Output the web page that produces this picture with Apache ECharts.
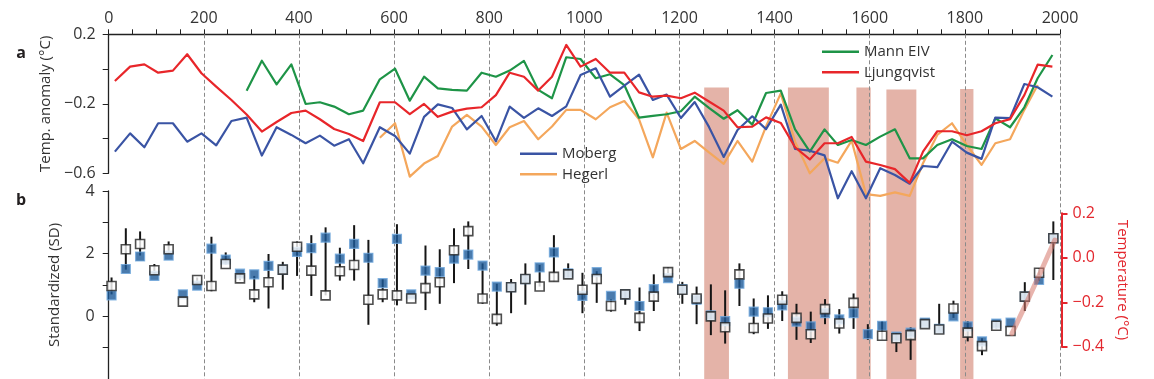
<!DOCTYPE html>
<html><head><meta charset="utf-8">
<script src="https://cdn.jsdelivr.net/npm/echarts@6.0.0/dist/echarts.min.js"></script>
<style>html,body{margin:0;padding:0;background:#fff}#c{width:1154px;height:379px}</style>
</head><body><div id="c"></div>
<script>
// ---- Panel a: reconstructions (temperature anomaly, °C) ----
const yearsA = [13, 45, 75, 104, 135, 165, 195, 226, 258, 290, 322, 353, 384, 414, 444, 474, 505, 535, 570, 602, 633, 663, 692, 722, 753, 784, 814, 843, 873, 903, 932, 962, 992, 1024, 1054, 1084, 1115, 1144, 1173, 1203, 1232, 1262, 1293, 1322, 1353, 1382, 1413, 1443, 1474, 1505, 1533, 1562, 1592, 1622, 1653, 1684, 1712, 1742, 1773, 1804, 1835, 1864, 1895, 1925, 1953, 1984];
const moberg = [-0.475, -0.370, -0.450, -0.312, -0.312, -0.418, -0.370, -0.439, -0.299, -0.280,
  -0.498, -0.335, -0.379, -0.427, -0.383, -0.441, -0.404, -0.542, -0.335, -0.385,
  -0.487, -0.275, -0.203, -0.224, -0.347, -0.270, -0.416, -0.216, -0.281, -0.226,
  -0.270, -0.215, -0.034, 0.004, -0.159, -0.095, -0.032, -0.178, -0.147, -0.282,
  -0.190, -0.333, -0.506, -0.351, -0.272, -0.346, -0.205, -0.460, -0.470, -0.497,
  -0.744, -0.588, -0.744, -0.571, -0.610, -0.660, -0.558, -0.565, -0.418, -0.481,
  -0.517, -0.280, -0.283, -0.086, -0.105, -0.159];
const ljungqvist = [-0.069, 0.014, 0.027, -0.021, -0.009, 0.085, -0.024, -0.101, -0.178, -0.262,
  -0.360, -0.305, -0.253, -0.239, -0.289, -0.345, -0.374, -0.414, -0.191, -0.191,
  -0.260, -0.201, -0.275, -0.245, -0.228, -0.220, -0.150, -0.021, -0.044, -0.124,
  -0.044, 0.139, 0.014, 0.058, -0.021, -0.021, -0.134, -0.159, -0.153, -0.168,
  -0.136, -0.187, -0.239, -0.335, -0.331, -0.278, -0.310, -0.450, -0.520, -0.427,
  -0.427, -0.391, -0.533, -0.552, -0.576, -0.655, -0.475, -0.358, -0.358, -0.381,
  -0.358, -0.312, -0.288, -0.150, 0.025, 0.014];
const mannEIV = [null, null, null, null, null, null, null, null, null, -0.125,
  0.048, -0.088, 0.027, -0.201, -0.191, -0.216, -0.260, -0.239, -0.059, 0.002,
  -0.182, -0.044, -0.111, -0.120, -0.124, -0.021, -0.044, -0.009, 0.047, -0.120,
  -0.168, 0.068, 0.058, -0.053, -0.030, -0.092, -0.280, -0.270, -0.260, -0.243,
  -0.159, -0.223, -0.286, -0.237, -0.320, -0.138, -0.124, -0.347, -0.475, -0.347,
  -0.437, -0.408, -0.437, -0.389, -0.347, -0.514, -0.514, -0.437, -0.404, -0.443,
  -0.460, -0.284, -0.335, -0.220, -0.053, 0.081];
const hegerl = [null, null, null, null, null, null, null, null, null, null,
  null, null, null, null, null, null, null, null, -0.395, -0.312,
  -0.619, -0.544, -0.500, -0.331, -0.264, -0.331, -0.437, -0.335, -0.299, -0.404,
  -0.331, -0.235, -0.235, -0.289, -0.220, -0.184, -0.289, -0.508, -0.251, -0.460,
  -0.414, -0.479, -0.546, -0.414, -0.533, -0.330, -0.140, -0.418, -0.600, -0.514,
  -0.539, -0.412, -0.720, -0.730, -0.710, -0.730, -0.542, -0.379, -0.312, -0.437,
  -0.552, -0.427, -0.404, -0.235, -0.092, null];

// ---- Panel b: standardized values (SD) ----
const yearsB = [6, 36, 66, 96, 126, 156, 186, 216, 246, 276, 306, 336, 366, 396, 426, 456, 486, 516, 546, 576, 606, 636, 666, 696, 726, 756, 786, 816, 846, 876, 906, 936, 966, 996, 1026, 1056, 1086, 1116, 1146, 1176, 1206, 1236, 1266, 1296, 1326, 1356, 1386, 1416, 1446, 1476, 1506, 1536, 1566, 1596, 1626, 1656, 1686, 1716, 1746, 1776, 1806, 1836, 1866, 1896, 1926, 1956, 1986];
const blueSD = [0.67, 1.51, 1.91, 1.29, 1.94, 0.70, 0.98, 2.16, 1.81, 1.36,
  1.34, 1.61, 1.49, 2.06, 2.18, 2.51, 1.84, 2.31, 1.87, 1.06,
  2.47, 0.70, 1.46, 1.41, 1.84, 1.97, 1.62, 0.95, 0.93, 1.19,
  1.56, 2.04, 1.37, 0.65, 1.41, 0.65, 0.70, 0.33, 0.87, 1.22,
  0.87, 0.53, 0.03, -0.15, 1.04, 0.15, 0.13, 0.35, -0.17, -0.32,
  0.10, -0.10, 0.10, -0.57, -0.30, -0.65, -0.52, -0.20, -0.40, 0.00,
  -0.32, -0.80, -0.23, -0.20, 0.63, 1.16, 2.49];
const blackSD = [0.97, 2.14, 2.31, 1.47, 2.14, 0.47, 1.16, 0.97, 1.67, 1.21,
  0.70, 1.09, 1.49, 2.22, 1.46, 0.67, 1.44, 1.64, 0.53, 0.70,
  0.67, 0.57, 0.90, 1.09, 2.11, 2.72, 0.57, -0.08, 0.93, 1.19,
  0.95, 1.26, 1.34, 0.85, 1.19, 0.33, 0.70, -0.05, 0.63, 1.41,
  0.85, 0.57, 0.00, -0.35, 1.34, -0.37, -0.07, 0.53, -0.05, -0.57,
  0.23, -0.23, 0.43, null, -0.62, -0.70, -0.60, -0.25, -0.42, 0.25,
  -0.52, -0.95, -0.30, -0.47, 0.63, 1.39, 2.49];
const barLow = [0.70, 1.49, 1.94, 1.35, 2.00, null, 1.05, 0.80, 1.65, 1.15,
  0.45, 0.25, 0.85, 1.29, 0.65, 0.67, 1.14, 1.14, -0.27, 0.45,
  0.35, null, 0.20, 0.40, 1.06, 1.51, 0.40, -0.30, 0.10, 0.37,
  0.95, 1.12, 1.22, 0.10, 0.43, 0.15, 0.37, -0.47, 0.17, 1.34,
  0.40, -0.25, -0.60, -0.87, 0.33, -0.57, -0.40, -0.15, -0.75, -0.85,
  -0.25, -0.55, -0.40, -0.75, -0.75, -1.14, -1.39, null, -0.45, -0.05,
  -0.80, -1.24, -0.40, null, 0.17, 1.14, 1.16];
const barHigh = [1.24, 2.81, 2.71, 1.67, 2.39, null, 1.24, 2.54, 2.04, 1.35,
  1.29, 1.99, 1.74, 2.39, 2.59, 2.84, 2.19, 2.91, 2.44, 1.19,
  2.94, null, 2.26, 2.14, 2.81, 3.03, 1.69, 1.04, 1.19, 1.69,
  1.64, 2.59, 1.69, 1.39, 1.44, 0.55, 0.79, 0.92, 1.34, 1.56,
  1.10, 0.95, 1.02, 0.83, 1.69, 0.57, 0.67, 0.80, 0.40, 0.15,
  0.55, 0.23, 0.73, -0.25, -0.15, -0.53, -0.35, null, 0.40, 0.50,
  -0.15, -0.70, -0.15, null, 1.09, 1.54, 3.03];

// ---- Instrumental temperature (right axis, °C) ----
const tempYears = [1896, 1926, 1956, 1986];
const tempValues = [-0.34, -0.205, -0.065, 0.08];

// ---- Shaded periods (years) and their top (panel-a units) ----
const bandStart = [1252, 1428, 1572, 1635, 1790];
const bandEnd = [1304, 1514, 1602, 1698, 1818];
const bandTop = [-0.108, -0.108, -0.108, -0.12, -0.118];

// ---- Tick labels ----
const panelATickLabels = ['0.2', '\u22120.2', '\u22120.6'];

const FONT = "'Open Sans', 'Noto Sans', sans-serif";
const TXT = '#333';
const AX = '#222';
const RED = '#e3262d';
const fmt1 = v => (v < -1e-9 ? '\u2212' : '') + Math.abs(v).toFixed(1);

function pairs(xs, ys) {
  const out = [];
  xs.forEach((x, i) => { if (ys[i] !== null && ys[i] !== undefined) out.push([x, ys[i]]); });
  return out;
}
function lineSeries(name, ys, color) {
  return {
    name, type: 'line', xAxisIndex: 0, yAxisIndex: 0, data: pairs(yearsA, ys),
    symbol: 'none', clip: false, z: 5,
    itemStyle: { color }, lineStyle: { color, width: 2.2, join: 'round' }
  };
}

const chart = echarts.init(document.getElementById('c'), null, { renderer: 'canvas' });
const option = {
  animation: false,
  textStyle: { fontFamily: FONT },
  grid: [
    { left: 108.7, right: 94, top: 34.3, height: 139 },
    { left: 108.7, right: 94, top: 191, height: 201 },
    { left: 108.7, right: 92.5, top: 213.3, height: 133.5 },
    { left: 108.7, right: 94, top: 34.3, height: 347.5 }
  ],
  xAxis: [
    { gridIndex: 0, type: 'value', position: 'top', min: 0, max: 2000, interval: 200,
      axisLine: { onZero: false, lineStyle: { color: AX, width: 1.3 } },
      axisTick: { length: 5, lineStyle: { color: AX } },
      minorTick: { show: true, splitNumber: 4, length: 5, lineStyle: { color: AX } },
      axisLabel: { fontSize: 16, color: TXT, margin: 8, fontFamily: FONT, formatter: v => String(v) },
      splitLine: { show: false } },
    { gridIndex: 1, type: 'value', min: 0, max: 2000, show: false, axisLine: { onZero: false } },
    { gridIndex: 2, type: 'value', min: 0, max: 2000, show: false, axisLine: { onZero: false } },
    { gridIndex: 3, type: 'value', min: 0, max: 2000, interval: 200, z: 1,
      axisLine: { show: false, onZero: false }, axisTick: { show: false }, axisLabel: { show: false },
      splitLine: { show: true, showMinLine: false, showMaxLine: true,
        lineStyle: { type: [4, 2.5], color: '#8a8a8a', width: 1 } } }
  ],
  yAxis: [
    { gridIndex: 0, type: 'value', min: -0.6, max: 0.2, interval: 0.2,
      name: 'Temp. anomaly (°C)', nameLocation: 'middle', nameGap: 46,
      nameTextStyle: { fontSize: 15, color: TXT, fontFamily: FONT },
      axisLine: { show: true, onZero: false, lineStyle: { color: AX, width: 1.3 } },
      axisTick: { show: true, length: 6, lineStyle: { color: AX } },
      axisLabel: { fontSize: 16, color: TXT, margin: 13, fontFamily: FONT,
        formatter: v => { const s = fmt1(v); return panelATickLabels.indexOf(s) >= 0 ? s : ''; } },
      splitLine: { show: false } },
    { gridIndex: 1, type: 'value', min: -2, max: 4, interval: 1,
      name: 'Standardized (SD)', nameLocation: 'middle', nameGap: 46,
      nameTextStyle: { fontSize: 15, color: TXT, fontFamily: FONT },
      axisLine: { show: true, onZero: false, lineStyle: { color: AX, width: 1.3 } },
      axisTick: { show: true, length: 6, lineStyle: { color: AX } },
      axisLabel: { fontSize: 16, color: TXT, margin: 14, fontFamily: FONT,
        formatter: v => (Math.round(v) % 2 === 0 && v >= 0) ? String(Math.round(v)) : '' },
      splitLine: { show: false } },
    { gridIndex: 2, type: 'value', position: 'right', min: -0.4, max: 0.2, interval: 0.2,
      name: 'Temperature (°C)', nameLocation: 'middle', nameRotate: -90, nameGap: 50,
      nameTextStyle: { fontSize: 15, color: RED, fontFamily: FONT },
      axisLine: { show: true, onZero: false, lineStyle: { color: RED, width: 2 } },
      axisTick: { show: true, length: 6, lineStyle: { color: RED, width: 2 } },
      axisLabel: { fontSize: 16, color: RED, margin: 11, fontFamily: FONT, formatter: fmt1 },
      splitLine: { show: false } },
    { gridIndex: 3, type: 'value', min: -1.8, max: 0.2, show: false, axisLine: { onZero: false } }
  ],
  legend: [
    { data: ['Mann EIV', 'Ljungqvist'], orient: 'vertical', left: 822, top: 41.7, padding: 0,
      itemWidth: 37, itemHeight: 2.5, itemGap: 0.6, icon: 'rect',
      textStyle: { fontSize: 15, color: TXT, lineHeight: 20, fontFamily: FONT } },
    { data: ['Moberg', 'Hegerl'], orient: 'vertical', left: 520, top: 143.7, padding: 0,
      itemWidth: 37, itemHeight: 2.5, itemGap: 0.6, icon: 'rect',
      textStyle: { fontSize: 15, color: TXT, lineHeight: 20, fontFamily: FONT } }
  ],
  graphic: [
    { type: 'text', x: 21, y: 53, style: { text: 'a', align: 'center', verticalAlign: 'middle',
      font: "bold 16px 'Open Sans', sans-serif", fill: '#231f20' } },
    { type: 'text', x: 21, y: 200, style: { text: 'b', align: 'center', verticalAlign: 'middle',
      font: "bold 16px 'Open Sans', sans-serif", fill: '#231f20' } }
  ],
  series: [
    { type: 'custom', name: 'bands', xAxisIndex: 3, yAxisIndex: 3, z: 0, silent: true,
      data: bandStart.map((s, i) => [s, bandEnd[i], bandTop[i]]),
      renderItem: (params, api) => {
        const p1 = api.coord([api.value(0), api.value(2)]);
        const p2 = api.coord([api.value(1), -1.8]);
        return { type: 'rect', shape: { x: p1[0], y: p1[1], width: p2[0] - p1[0], height: p2[1] - p1[1] },
          style: { fill: '#e4b3a8' } };
      } },
    lineSeries('Hegerl', hegerl, '#f4a75c'),
    lineSeries('Mann EIV', mannEIV, '#1e9447'),
    lineSeries('Moberg', moberg, '#3a54a4'),
    lineSeries('Ljungqvist', ljungqvist, '#e8262a'),
    { type: 'custom', name: 'errorbars', xAxisIndex: 1, yAxisIndex: 1, z: 5,
      data: yearsB.map((y, i) => [y, barLow[i], barHigh[i]]).filter(d => d[1] !== null),
      renderItem: (params, api) => {
        const a = api.coord([api.value(0), api.value(1)]);
        const b = api.coord([api.value(0), api.value(2)]);
        return { type: 'line', shape: { x1: a[0], y1: a[1], x2: b[0], y2: b[1] },
          style: { stroke: '#151515', lineWidth: 2 } };
      } },
    { type: 'scatter', name: 'blue', xAxisIndex: 1, yAxisIndex: 1, z: 6,
      data: pairs(yearsB, blueSD), symbol: 'rect', symbolSize: 9,
      itemStyle: { color: '#1d5a99', borderColor: '#6ea6dc', borderWidth: 1.2 } },
    { type: 'scatter', name: 'black', xAxisIndex: 1, yAxisIndex: 1, z: 7,
      data: pairs(yearsB, blackSD), symbol: 'rect', symbolSize: 9,
      itemStyle: { color: '#ffffff', borderColor: '#222222', borderWidth: 1.6 } },
    { type: 'line', name: 'instrumental', xAxisIndex: 2, yAxisIndex: 2, z: 8, clip: false,
      data: pairs(tempYears, tempValues), symbol: 'none',
      lineStyle: { color: 'rgba(214,118,106,0.55)', width: 5, cap: 'round' } }
  ]
};
chart.setOption(option);
</script>
</body></html>
